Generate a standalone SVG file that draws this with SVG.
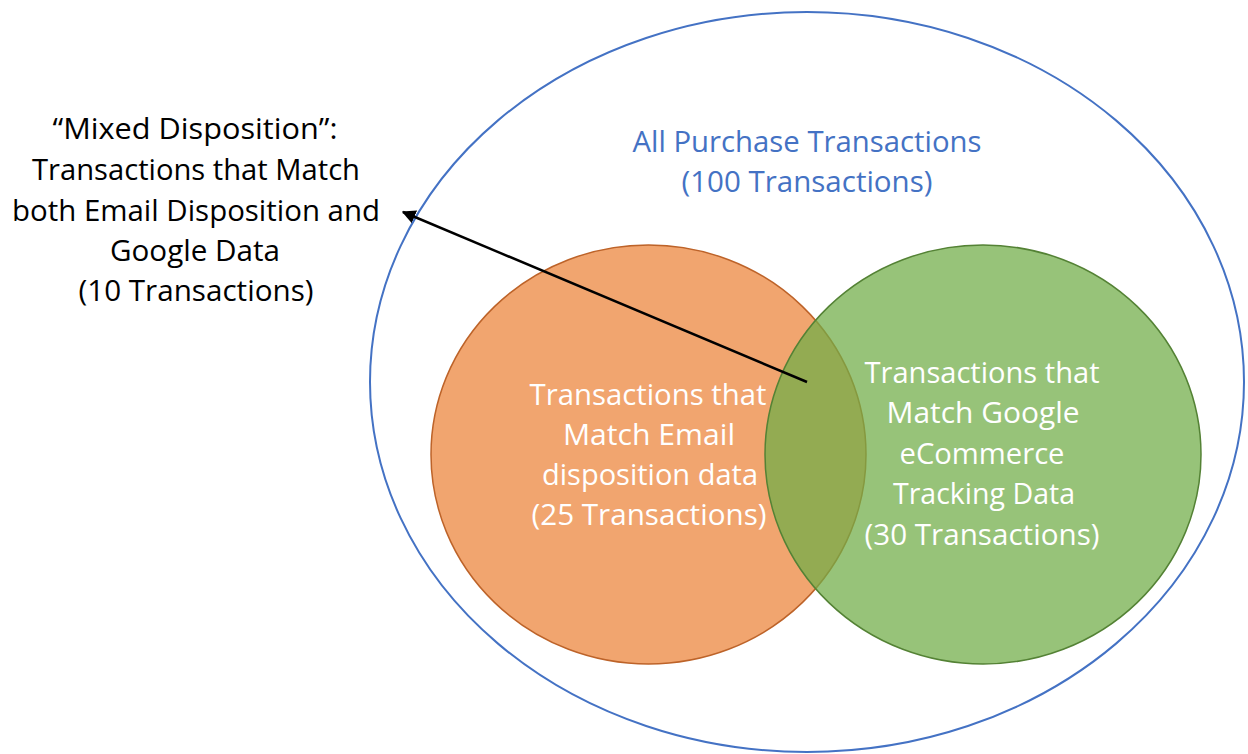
<svg xmlns="http://www.w3.org/2000/svg" width="1248" height="754" viewBox="0 0 1248 754">
  <style>
    .lbl { font-family: "Open Sans", "Liberation Sans", sans-serif; text-anchor: middle; }
    .dark { fill: #000000; font-size: 29px; }
    .blue { fill: #4472C4; font-size: 29px; }
    .white { fill: #FFFFFF; font-size: 30px; }
  </style>
  <defs>
    <marker id="arrowhead" viewBox="0 0 10 10" refX="9" refY="5" markerWidth="5.5" markerHeight="5.5" orient="auto" markerUnits="strokeWidth">
      <path d="M0,0 L10,5 L0,10 z" fill="#000000"/>
    </marker>
  </defs>
  <rect x="0" y="0" width="1248" height="754" fill="#FFFFFF"/>

  <g id="all-purchases">
    <ellipse cx="807" cy="382" rx="437" ry="370" fill="none" stroke="#4472C4" stroke-width="2"/>
    <text class="lbl blue" x="807" y="152" textLength="349" lengthAdjust="spacingAndGlyphs">All Purchase Transactions</text>
    <text class="lbl blue" x="807" y="192" textLength="251" lengthAdjust="spacingAndGlyphs">(100 Transactions)</text>
  </g>

  <g id="email-match">
    <ellipse cx="648.5" cy="454.5" rx="217.5" ry="209.5" fill="#F1A56F" stroke="#BD6329" stroke-width="1.5"/>
  </g>

  <g id="google-match">
    <ellipse cx="983" cy="454.5" rx="218" ry="209.5" fill="#70AD47" fill-opacity="0.73" stroke="#548235" stroke-width="1.5"/>
  </g>

  <g id="email-label">
    <text class="lbl white" x="648" y="405" textLength="237" lengthAdjust="spacingAndGlyphs">Transactions that</text>
    <text class="lbl white" x="649" y="445" textLength="172" lengthAdjust="spacingAndGlyphs">Match Email</text>
    <text class="lbl white" x="650" y="485" textLength="216" lengthAdjust="spacingAndGlyphs">disposition data</text>
    <text class="lbl white" x="649" y="525" textLength="235" lengthAdjust="spacingAndGlyphs">(25 Transactions)</text>
  </g>

  <g id="google-label">
    <text class="lbl white" x="982" y="383" textLength="235" lengthAdjust="spacingAndGlyphs">Transactions that</text>
    <text class="lbl white" x="983" y="423" textLength="193" lengthAdjust="spacingAndGlyphs">Match Google</text>
    <text class="lbl white" x="982" y="464" textLength="165" lengthAdjust="spacingAndGlyphs">eCommerce</text>
    <text class="lbl white" x="984" y="504" textLength="182" lengthAdjust="spacingAndGlyphs">Tracking Data</text>
    <text class="lbl white" x="982" y="545" textLength="235" lengthAdjust="spacingAndGlyphs">(30 Transactions)</text>
  </g>

  <g id="mixed-label">
    <text class="lbl dark" x="195" y="139" textLength="285" lengthAdjust="spacingAndGlyphs">“Mixed Disposition”:</text>
    <text class="lbl dark" x="196" y="180" textLength="328" lengthAdjust="spacingAndGlyphs">Transactions that Match</text>
    <text class="lbl dark" x="196" y="221" textLength="368" lengthAdjust="spacingAndGlyphs">both Email Disposition and</text>
    <text class="lbl dark" x="195" y="261" textLength="170" lengthAdjust="spacingAndGlyphs">Google Data</text>
    <text class="lbl dark" x="196" y="301" textLength="235" lengthAdjust="spacingAndGlyphs">(10 Transactions)</text>
  </g>

  <g id="connectors">
    <line x1="807" y1="382" x2="403" y2="212" stroke="#000000" stroke-width="2.5" marker-end="url(#arrowhead)"/>
  </g>
</svg>
